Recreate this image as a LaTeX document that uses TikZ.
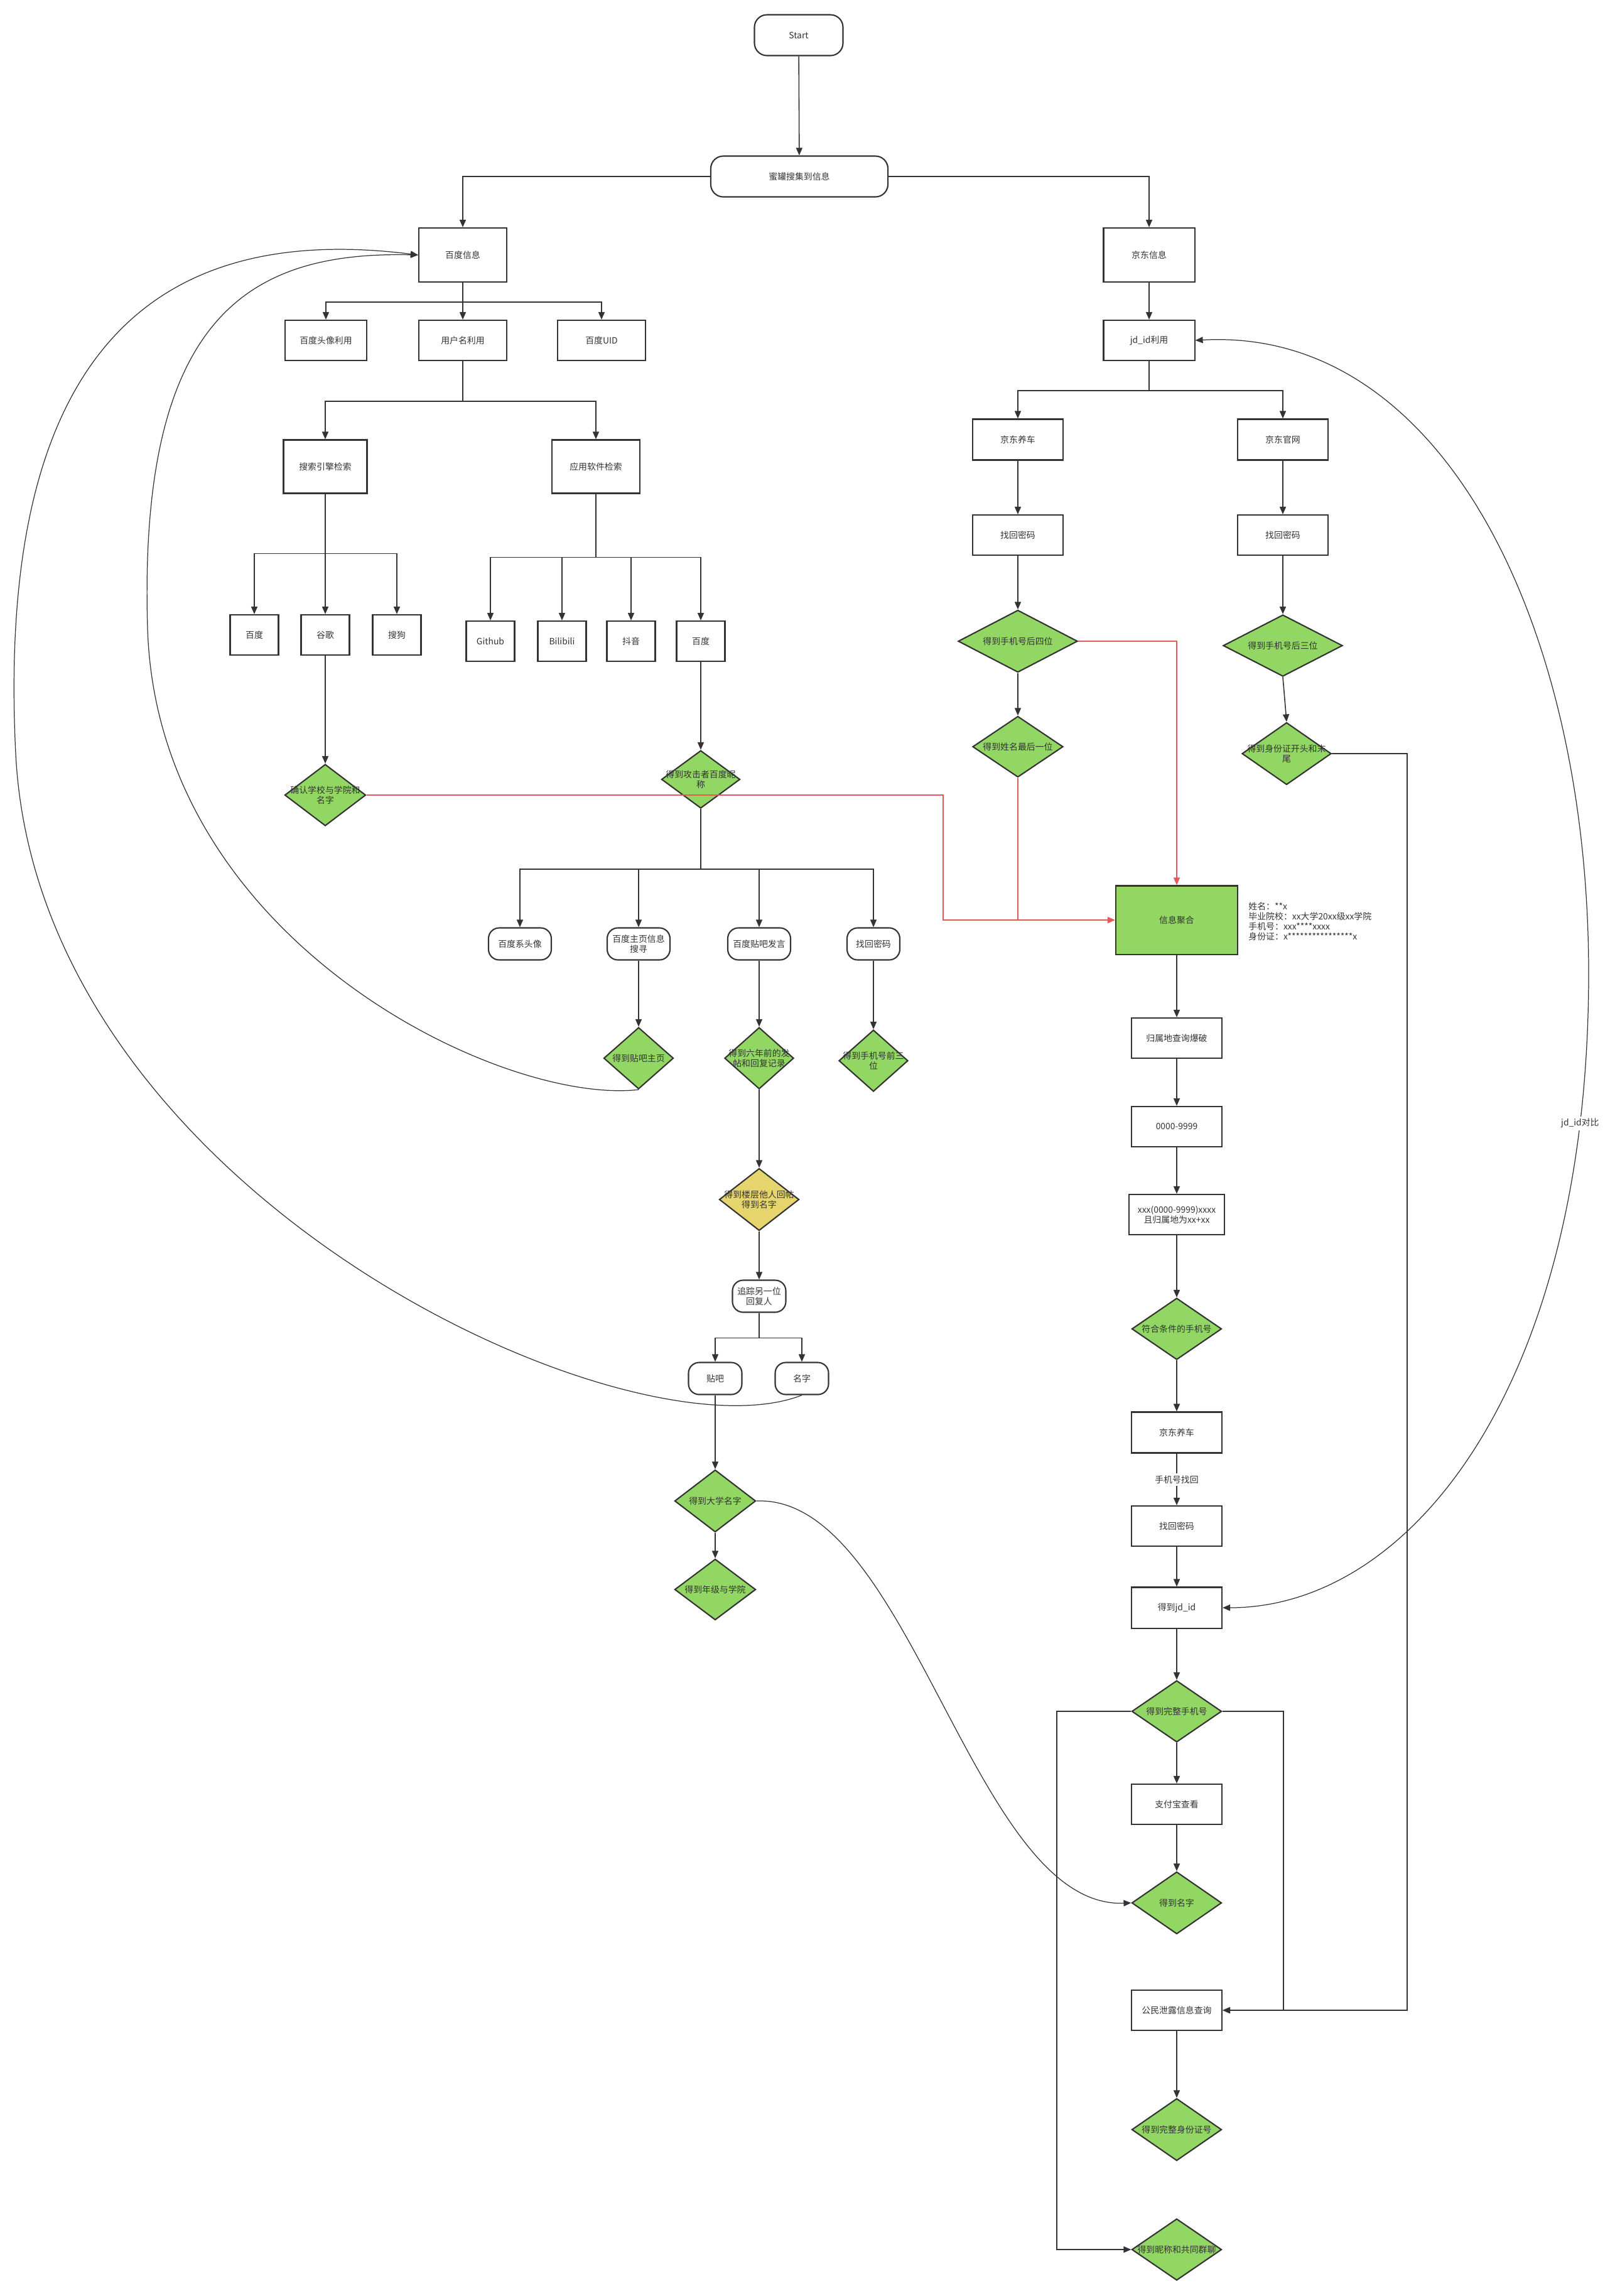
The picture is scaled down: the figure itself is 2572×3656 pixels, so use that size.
\documentclass[tikz,border=0pt]{standalone}
\usepackage{fontspec}
\setmainfont{Noto Sans CJK SC}
\usetikzlibrary{shapes.geometric, arrows.meta}

\definecolor{ink}{RGB}{51,51,51}
\definecolor{leaf}{RGB}{146,214,100}
\definecolor{hint}{RGB}{230,212,108}
\definecolor{alert}{RGB}{226,90,90}

\begin{document}
\begin{tikzpicture}[x=0.01cm, y=-0.01cm,
    every node/.style={font=\fontsize{3.95pt}{4.6pt}\selectfont, text=ink, align=center},
    box/.style={rectangle, draw=ink, line width=0.6pt, minimum width=1.44cm, minimum height=0.64cm, inner sep=1pt},
    term/.style={box, rounded corners=0.2cm},
    pill/.style={box, rounded corners=0.17cm, minimum width=1cm, minimum height=0.51cm},
    dec/.style={diamond, draw=ink, line width=0.6pt, fill=leaf, inner sep=-2cm, minimum width=1.43cm, minimum height=0.98cm},
    link/.style={draw=ink, line width=0.45pt, -{Triangle[length=0.12cm, width=0.1cm]}},
    hot/.style={link, draw=alert},
    curve/.style={link, line width=0.35pt}]
    \useasboundingbox (0,0) rectangle (2572,3656);
    \fill[white] (0,0) rectangle (2572,3656);
    % Top
    \node[term, minimum width=1.41cm, minimum height=0.65cm] (start) at (1272,56) {Start};
    \node[term, minimum width=2.82cm, minimum height=0.65cm] (honeypot) at (1273,281) {蜜罐搜集到信息};
    \node[box, minimum width=1.4cm, minimum height=0.86cm] (baidu) at (737,406) {百度信息};
    \node[box, minimum width=1.45cm, minimum height=0.86cm] (jd) at (1830,406) {京东信息};
    % Baidu branch
    \node[box, minimum width=1.3cm] (avatar) at (519,542) {百度头像利用};
    \node[box, minimum width=1.4cm] (uname) at (737,542) {用户名利用};
    \node[box, minimum width=1.4cm] (uid) at (958,542) {百度UID};
    \node[box, minimum width=1.33cm, minimum height=0.85cm] (search) at (518,743) {搜索引擎检索};
    \node[box, minimum width=1.4cm, minimum height=0.85cm] (apps) at (949,743) {应用软件检索};
    \node[box, minimum width=0.77cm] (sbaidu) at (405,1011) {百度};
    \node[box, minimum width=0.77cm] (google) at (518,1011) {谷歌};
    \node[box, minimum width=0.77cm] (sogou) at (632,1011) {搜狗};
    \node[box, minimum width=0.77cm] (github) at (781,1021) {Github};
    \node[box, minimum width=0.77cm] (bili) at (895,1021) {Bilibili};
    \node[box, minimum width=0.77cm] (douyin) at (1005,1021) {抖音};
    \node[box, minimum width=0.77cm] (abaidu) at (1116,1021) {百度};
    \node[dec, minimum width=1.29cm] (school) at (518,1266) {确认学校与学院和\\名字};
    \node[dec, minimum width=1.25cm, minimum height=0.92cm] (nick) at (1116,1241) {得到攻击者百度昵\\称};
    \node[pill] (nickavatar) at (828,1503) {百度系头像};
    \node[pill] (homepage) at (1017,1503) {百度主页信息\\搜寻};
    \node[pill] (tieba) at (1209,1503) {百度贴吧发言};
    \node[pill, minimum width=0.84cm] (pwdb) at (1391,1503) {找回密码};
    \node[dec, minimum width=1.11cm] (gethome) at (1017,1685) {得到贴吧主页};
    \node[dec, minimum width=1.1cm] (getposts) at (1209,1685) {得到六年前的发\\帖和回复记录};
    \node[dec, minimum width=1.1cm] (getphone3) at (1391,1689) {得到手机号前三\\位};
    \node[dec, fill=hint, minimum width=1.27cm, minimum height=0.99cm] (floor) at (1209,1910) {得到楼层他人回帖\\得到名字};
    \node[pill, minimum width=0.85cm] (trace) at (1209,2064) {追踪另一位\\回复人};
    \node[pill, minimum width=0.85cm] (tb) at (1139,2195) {贴吧};
    \node[pill, minimum width=0.85cm] (name) at (1277,2195) {名字};
    \node[dec, minimum width=1.29cm, minimum height=0.99cm] (univ) at (1139,2390) {得到大学名字};
    \node[dec, minimum width=1.29cm, minimum height=0.97cm] (grade) at (1139,2531) {得到年级与学院};
    % JD branch
    \node[box, minimum width=1.45cm] (jdid) at (1830,542) {jd\_id利用};
    \node[box, minimum height=0.65cm] (jdcar) at (1621,700) {京东养车};
    \node[box, minimum height=0.65cm] (jdweb) at (2043,700) {京东官网};
    \node[box] (pwdl) at (1621,852) {找回密码};
    \node[box] (pwdr) at (2043,852) {找回密码};
    \node[dec, minimum width=1.9cm, minimum height=0.99cm] (last4) at (1621,1021) {得到手机号后四位};
    \node[dec, minimum width=1.44cm, minimum height=0.97cm] (lastname) at (1621,1189) {得到姓名最后一位};
    \node[dec, minimum width=1.9cm] (last3) at (2043,1028) {得到手机号后三位};
    \node[dec, minimum width=1.42cm, minimum height=0.99cm] (idends) at (2049,1200) {得到身份证开头和末\\尾};
    \node[box, fill=leaf, minimum width=1.94cm, minimum height=1.09cm] (merge) at (1874,1465) {信息聚合};
    \node[anchor=west, align=left] (info) at (1976,1467) {姓名：**x\\毕业院校：xx大学20xx级xx学院\\手机号：xxx****xxxx\\身份证：x****************x};
    \node[box] (geo) at (1874,1653) {归属地查询爆破};
    \node[box] (range) at (1874,1794) {0000-9999};
    \node[box, minimum width=1.52cm] (cand) at (1874,1934) {xxx(0000-9999)xxxx\\且归属地为xx+xx};
    \node[dec] (valid) at (1874,2116) {符合条件的手机号};
    \node[box, minimum height=0.65cm] (jdcar2) at (1874,2281) {京东养车};
    \node[box] (pwd2) at (1874,2430) {找回密码};
    \node[box, minimum height=0.65cm] (getjd) at (1874,2560) {得到jd\_id};
    \node[dec] (fullphone) at (1874,2725) {得到完整手机号};
    \node[box] (alipay) at (1874,2873) {支付宝查看};
    \node[dec, minimum height=0.99cm] (getname) at (1874,3030) {得到名字};
    \node[box] (leak) at (1874,3201) {公民泄露信息查询};
    \node[dec, minimum height=0.99cm] (fullid) at (1874,3391) {得到完整身份证号};
    \node[dec] (group) at (1874,3582) {得到昵称和共同群聊};
    \coordinate (redx) at (1502,1465);
    \coordinate (jdmid) at (2530,1550);
    \coordinate (idx) at (2241,3201);
    \coordinate (phx) at (2044,3201);
    \coordinate (grx) at (1683,3582);
    \coordinate (bendin) at (235,1000);
    \coordinate (bendout) at (25,1200);
    % Connectors
    \draw[link] (start) -- (honeypot);
    \draw[link] (honeypot.west) -| (baidu.north);
    \draw[link] (honeypot.east) -| (jd.north);
    \foreach \n in {avatar, uname, uid} \draw[link] (baidu.south) -- ++(0,31) -| (\n.north);
    \foreach \n in {search, apps} \draw[link] (uname.south) -- ++(0,64) -| (\n.north);
    \foreach \n in {sbaidu, google, sogou} \draw[link] (search.south) -- ++(0,95) -| (\n.north);
    \foreach \n in {github, bili, douyin, abaidu} \draw[link] (apps.south) -- ++(0,101) -| (\n.north);
    \draw[link] (google) -- (school);
    \draw[link] (abaidu) -- (nick);
    \foreach \n in {nickavatar, homepage, tieba, pwdb} \draw[link] (nick.south) -- ++(0,96) -| (\n.north);
    \draw[link] (homepage) -- (gethome);
    \draw[link] (tieba) -- (getposts);
    \draw[link] (pwdb) -- (getphone3);
    \draw[link] (getposts) -- (floor);
    \draw[link] (floor) -- (trace);
    \foreach \n in {tb, name} \draw[link] (trace.south) -- ++(0,40) -| (\n.north);
    \draw[link] (tb) -- (univ);
    \draw[link] (univ) -- (grade);
    \draw[link] (jd) -- (jdid);
    \foreach \n in {jdcar, jdweb} \draw[link] (jdid.south) -- ++(0,47) -| (\n.north);
    \draw[link] (jdcar) -- (pwdl);
    \draw[link] (pwdl) -- (last4);
    \draw[link] (last4) -- (lastname);
    \draw[link] (jdweb) -- (pwdr);
    \draw[link] (pwdr) -- (last3);
    \draw[link] (last3.south) -- (idends.north);
    \draw[link] (merge) -- (geo);
    \draw[link] (geo) -- (range);
    \draw[link] (range) -- (cand);
    \draw[link] (cand) -- (valid);
    \draw[link] (valid) -- (jdcar2);
    \draw[link] (jdcar2) -- node[fill=white, inner sep=1pt] {手机号找回} (pwd2);
    \draw[link] (pwd2) -- (getjd);
    \draw[link] (getjd) -- (fullphone);
    \draw[link] (fullphone) -- (alipay);
    \draw[link] (alipay) -- (getname);
    \draw[link] (leak) -- (fullid);
    \draw[link] (fullphone.east) -| (phx) -- (leak.east);
    \draw[link] (idends.east) -| (idx) -- (leak.east);
    \draw[link] (fullphone.west) -| (grx) -- (group.west);
    % Red merges
    \draw[hot] (last4.east) -| (merge.north);
    \draw[hot] (school.east) -| (redx) -- (merge.west);
    \draw[hot, -] (lastname.south) -- (lastname.south |- merge.west);
    % Curves
    \draw[curve] (gethome.south) .. controls (800,1760) and (250,1500) .. (bendin) .. controls (220,500) and (400,400) .. (baidu.west);
    \draw[curve] (name.south) .. controls (1000,2330) and (60,1900) .. (bendout) .. controls (-10,500) and (300,360) .. (baidu.west);
    \draw[curve] (univ.east) .. controls (1450,2380) and (1550,3040) .. (getname.west);
    \draw[curve, {Triangle[length=0.12cm, width=0.1cm]}-{Triangle[length=0.12cm, width=0.1cm]}] (jdid.east) .. controls (2300,520) and (2530,1000) .. (jdmid) .. controls (2530,2200) and (2250,2560) .. (getjd.east) node[pos=0.13, fill=white, inner sep=1pt] (cmp) {jd\_id对比};
\end{tikzpicture}
\end{document}
